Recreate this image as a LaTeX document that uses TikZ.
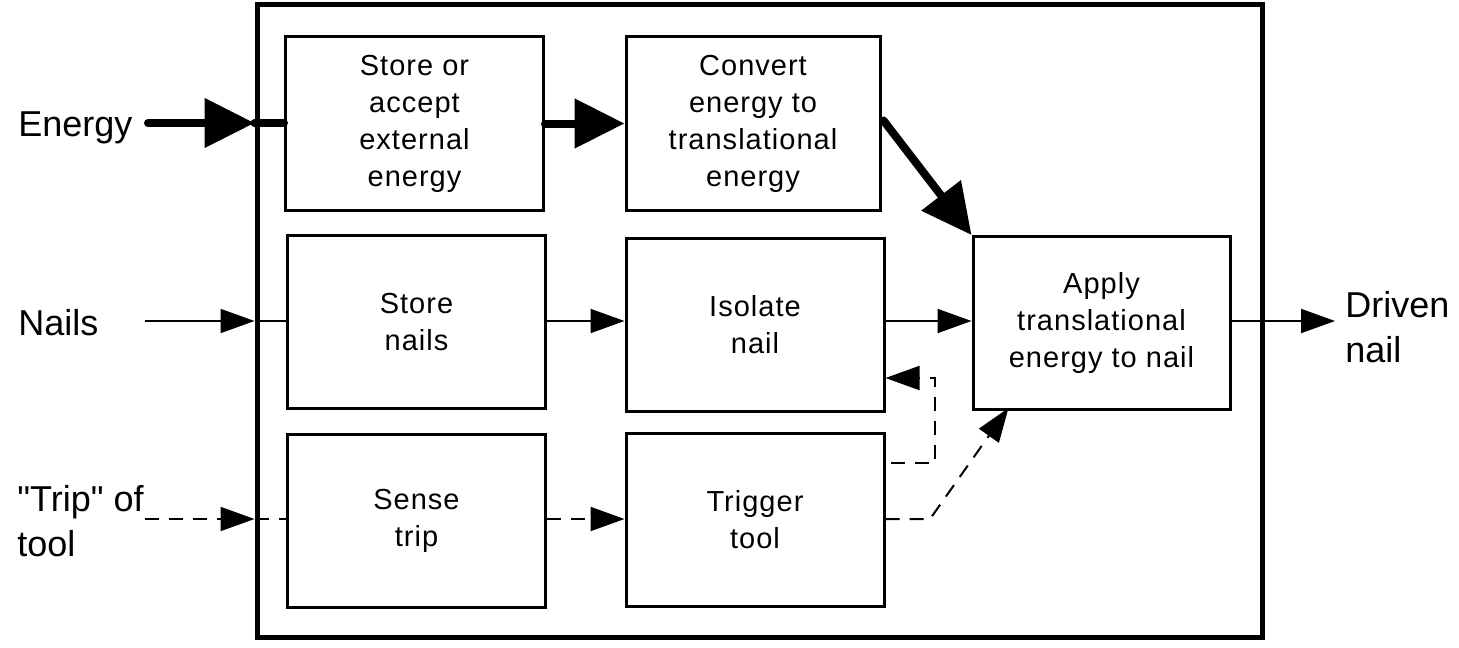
\documentclass[tikz,border=0pt]{standalone}
\usepackage{fontspec}
\setmainfont{Liberation Sans}[Ligatures=TeXOff]
\newfontfamily\boxfont{Liberation Sans}[LetterSpace=3.5]
\usetikzlibrary{arrows.meta,calc}
\begin{document}
\begin{tikzpicture}[x=0.5pt,y=-0.5pt,
  blk/.style={draw, line width=1.5pt, minimum width=129pt, minimum height=86.5pt, inner sep=0pt, align=center, font=\boxfont\fontsize{14.5}{18.5}\selectfont},
  lbl/.style={inner sep=0pt, anchor=base west, font=\fontsize{18}{22.5}\selectfont},
  thickln/.style={line width=4pt, line cap=round},
  thickarr/.style={thickln, -{Triangle[length=25pt,width=24pt]}},
  thinln/.style={line width=1pt},
  thinarr/.style={thinln, -{Triangle[length=17pt,width=12pt]}},
  dsh/.style={dash pattern=on 7pt off 5pt},
]
\useasboundingbox (0,0) rectangle (1459,647);
\node[draw, line width=2.5pt, minimum width=502.5pt, minimum height=316pt, inner sep=0pt] (outer) at (759.5,321) {};

\node[blk] (A) at (414.5,123.5) {Store or\\accept\\external\\energy};
\node[blk, minimum width=127pt] (B) at (753,123.5) {Convert\\energy to\\translational\\energy};
\node[blk] (C) at (416.5,322) {Store\\nails};
\node[blk] (D) at (755,324.5) {Isolate\\nail};
\node[blk, minimum width=128.5pt] (E) at (1101.5,323) {Apply\\translational\\energy to nail};
\node[blk] (F) at (416.5,520.5) {Sense\\trip};
\node[blk] (G) at (755,519.5) {Trigger\\tool};

\node[lbl] (energy) at (18,136) {Energy};
\node[lbl] (nails) at (18,335) {Nails};
\node[lbl] (trip) at (17,511) {\begin{tabular}[t]{@{}l@{}}"Trip" of\\tool\end{tabular}};
\node[lbl] (driven) at (1345,317) {\begin{tabular}[t]{@{}l@{}}Driven\\nail\end{tabular}};

% energy flow
\coordinate (ein) at (148,123);
\draw[thickarr] (ein) -- (ein -| outer.west);
\draw[thickln] (ein -| outer.west) -- (ein -| A.west);
\draw[thickarr] (A.east) -- (B.west);
\draw[thickarr] ($(B.east)+(2,-3)$) -- (E.north west);

% nail flow
\coordinate (nin) at (145,321);
\draw[thinarr] (nin) -- (nin -| outer.west);
\draw[thinln] (nin -| outer.west) -- (nin -| C.west);
\draw[thinarr] (C.east |- nin) -- (nin -| D.west);
\draw[thinarr] (D.east |- nin) -- (nin -| E.west);
\coordinate (nout) at (1335,321);
\draw[thinarr] (E.east |- nout) -- (nout);

% trip / signal flow
\coordinate (tin) at (145,519);
\draw[thinarr, dsh] (tin) -- (tin -| outer.west);
\draw[thinln, dsh] (tin -| outer.west) -- (tin -| F.west);
\draw[thinarr, dsh] (F.east |- tin) -- (tin -| G.west);
\coordinate (fb) at (935,378);
\draw[thinarr, dsh] ($(G.east)+(5,-57)$) -| (fb) -- (fb -| D.east);
\coordinate (tk) at (930,519);
\draw[thinarr, dsh] (G.east |- tk) -- (tk) -- ($(E.south west)+(37,-3)$);
\end{tikzpicture}
\end{document}
